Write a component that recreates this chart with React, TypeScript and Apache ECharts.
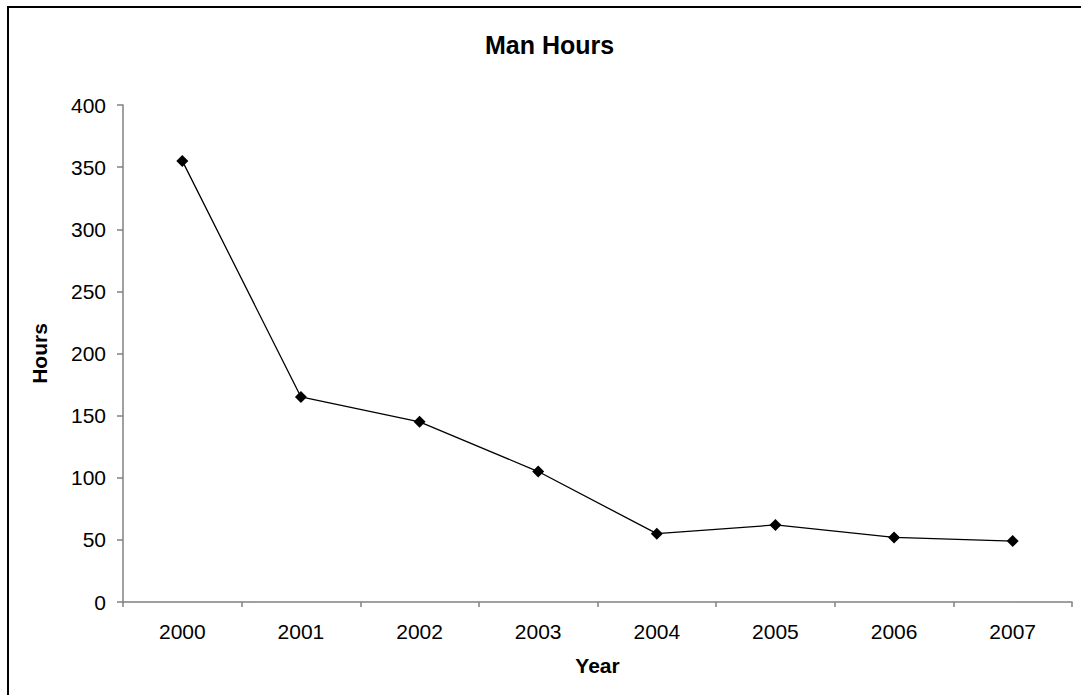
import React, { useEffect, useRef } from "react";
import * as echarts from "echarts";

const years = ["2000", "2001", "2002", "2003", "2004", "2005", "2006", "2007"];
const hours = [355, 165, 145, 105, 55, 62, 52, 49];
const yTicks = { min: 0, max: 400, interval: 50 };

export default function App() {
  const ref = useRef<HTMLDivElement>(null);
  useEffect(() => {
    if (!ref.current) return;
    const chart = echarts.init(ref.current, undefined, { renderer: "svg" });
    const font = "'Liberation Sans', Arial, Helvetica, sans-serif";
    chart.setOption({
      animation: false,
      backgroundColor: "#ffffff",
      textStyle: { fontFamily: font },
      title: {
        text: "Man Hours",
        left: 480,
        top: 27,
        textStyle: { fontSize: 25, fontWeight: "bold", color: "#000", fontFamily: font },
      },
      graphic: [
        {
          type: "rect",
          shape: { x: 8, y: 7, width: 1100, height: 720 },
          style: { fill: "none", stroke: "#000", lineWidth: 2 },
          silent: true,
        },
      ],
      grid: { left: 123, right: 9, top: 105, bottom: 93, outerBoundsMode: "none" },
      xAxis: {
        type: "category",
        data: years,
        boundaryGap: true,
        name: "Year",
        nameLocation: "middle",
        nameGap: 53,
        nameTextStyle: { fontSize: 21, fontWeight: "bold", color: "#000", fontFamily: font },
        axisLine: { lineStyle: { color: "#808080", width: 1.5 } },
        axisTick: { show: true, length: 5, alignWithLabel: false, lineStyle: { color: "#808080", width: 1.5 } },
        axisLabel: { fontSize: 21, color: "#000", margin: 19, fontFamily: font },
        splitLine: { show: false },
      },
      yAxis: {
        type: "value",
        min: yTicks.min,
        max: yTicks.max,
        interval: yTicks.interval,
        name: "Hours",
        nameLocation: "middle",
        nameGap: 73,
        nameRotate: 90,
        nameTextStyle: { fontSize: 21, fontWeight: "bold", color: "#000", fontFamily: font },
        axisLine: { show: true, lineStyle: { color: "#808080", width: 1.5 } },
        axisTick: { show: true, length: 6, lineStyle: { color: "#808080", width: 1.5 } },
        axisLabel: { fontSize: 21, color: "#000", margin: 17, fontFamily: font },
        splitLine: { show: false },
      },
      series: [
        {
          type: "line",
          data: hours,
          symbol: "diamond",
          symbolSize: 12,
          lineStyle: { color: "#000", width: 1.3 },
          itemStyle: { color: "#000" },
          label: { show: false },
        },
      ],
    });
    return () => chart.dispose();
  }, []);
  return (
    <div
      ref={ref}
      style={{ position: "fixed", left: 0, top: 0, width: 1081, height: 695 }}
    />
  );
}
